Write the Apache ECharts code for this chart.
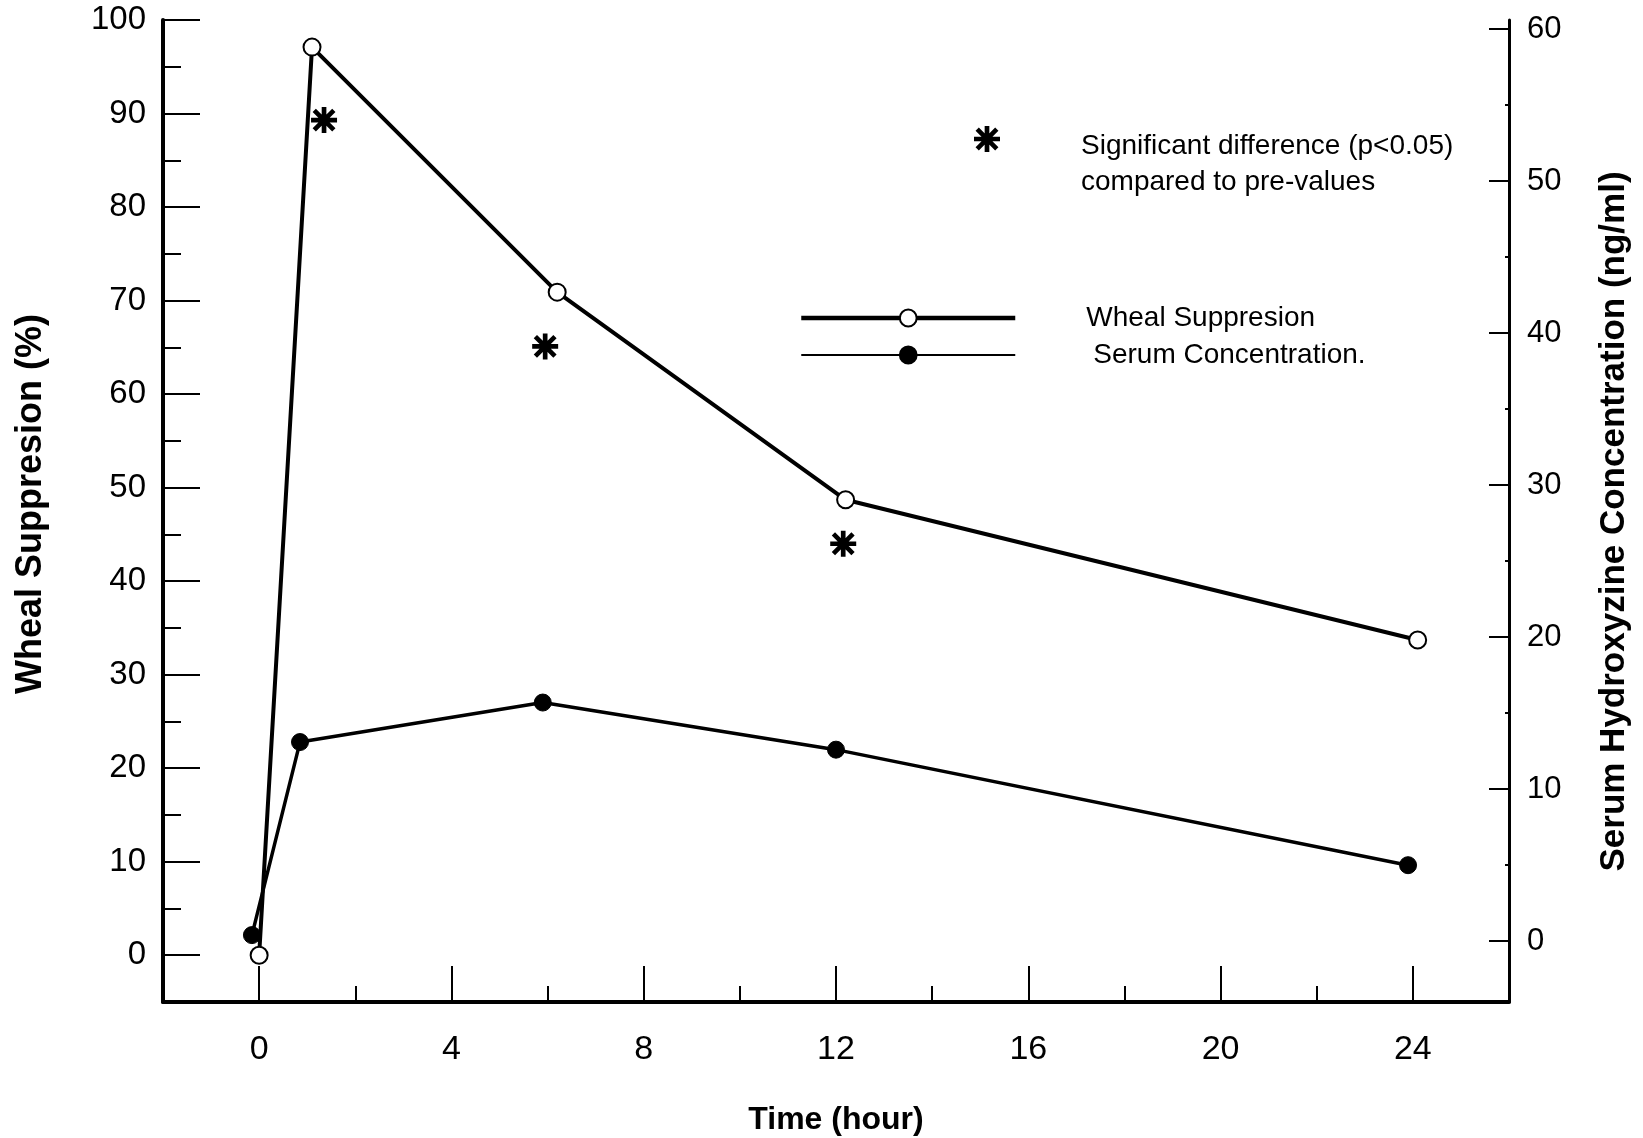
<!DOCTYPE html>
<html>
<head>
<meta charset="utf-8">
<title>Wheal Suppresion / Serum Concentration</title>
<script src="https://cdn.jsdelivr.net/npm/echarts@6.0.0/dist/echarts.min.js"></script>
<style>
  html, body { margin: 0; padding: 0; background: #fff; }
  #chart { width: 1643px; height: 1138px; }
</style>
</head>
<body>
<div id="chart"></div>
<script>
// data
var whealHours = [0, 1.1, 6.2, 12.2, 24.1];
var whealValues = [0, 97.1, 70.9, 48.7, 33.7];
var serumHours = [-0.15, 0.85, 5.9, 12.0, 23.9];
var serumValues = [0.4, 13.1, 15.7, 12.6, 5.0];
var sigHours = [1.35, 5.95, 12.15];
var sigValues = [89.3, 65.1, 44.0];

var xTicks = [0, 4, 8, 12, 16, 20, 24];
var xMinorTicks = [2, 6, 10, 14, 18, 22];
var leftTicks = [0, 10, 20, 30, 40, 50, 60, 70, 80, 90, 100];
var leftMinorTicks = [5, 15, 25, 35, 45, 55, 65, 75, 85, 95];
var rightTicks = [0, 10, 20, 30, 40, 50, 60];
var rightMinorTicks = [5, 15, 25, 35, 45, 55];

var FONT = 'Liberation Sans, Arial, Helvetica, sans-serif';

function pairs(xs, ys) {
    var out = [];
    for (var i = 0; i < xs.length; i++) out.push([xs[i], ys[i]]);
    return out;
}

// eight-armed asterisk
var asterisk = 'path://M41 0H59V100H41Z M0 41H100V59H0Z M18.6 6L94 81.4L81.4 94L6 18.6Z M81.4 6L94 18.6L18.6 94L6 81.4Z';

var chart = echarts.init(document.getElementById('chart'));

chart.setOption({
    animation: false,
    backgroundColor: '#fff',
    textStyle: { fontFamily: FONT, color: '#000' },
    grid: { left: 163, right: 134, top: 20, bottom: 136, containLabel: false, outerBoundsMode: 'none' },
    title: {
        text: 'Significant difference (p<0.05)\ncompared to pre-values',
        left: 1081,
        top: 128,
        padding: 0,
        textStyle: { fontFamily: FONT, fontSize: 28, fontWeight: 'normal', lineHeight: 36, color: '#000' }
    },
    legend: [{
        orient: 'vertical',
        left: 799,
        top: 304,
        padding: 0,
        itemWidth: 214,
        itemHeight: 21,
        itemGap: 9,
        selectedMode: false,
        textStyle: { fontFamily: FONT, fontSize: 28, lineHeight: 28, color: '#000', padding: [0, 0, 0, 66] },
        data: [
            { name: 'Wheal Suppresion', lineStyle: { width: 4.5 } },
            { name: 'Serum Concentration.', lineStyle: { width: 2 }, textStyle: { padding: [0, 0, 0, 73] } }
        ]
    }, {
        left: 974,
        top: 126,
        padding: 0,
        itemWidth: 26,
        itemHeight: 26,
        selectedMode: false,
        formatter: function () { return ''; },
        data: ['Significant difference (p<0.05)']
    }],
    xAxis: [{
        type: 'value',
        min: -2,
        max: 26,
        position: 'bottom',
        name: 'Time (hour)',
        nameLocation: 'middle',
        nameGap: 102,
        nameTextStyle: { fontFamily: FONT, fontSize: 32, fontWeight: 'bold', color: '#000' },
        axisLine: { show: true, onZero: false, lineStyle: { color: '#000', width: 4 } },
        axisTick: { show: true, inside: true, length: 36, lineStyle: { color: '#000', width: 2 }, customValues: xTicks },
        axisLabel: { fontFamily: FONT, fontSize: 34, color: '#000', margin: 31, customValues: xTicks },
        splitLine: { show: false }
    }, {
        type: 'value',
        min: -2,
        max: 26,
        position: 'bottom',
        axisLine: { show: false, onZero: false },
        axisTick: { show: true, inside: true, length: 16, lineStyle: { color: '#000', width: 2 }, customValues: xMinorTicks },
        axisLabel: { show: false },
        splitLine: { show: false }
    }],
    yAxis: [{
        type: 'value',
        min: -5,
        max: 100,
        position: 'left',
        name: 'Wheal Suppresion (%)',
        nameLocation: 'middle',
        nameGap: 114,
        nameTextStyle: { fontFamily: FONT, fontSize: 36, fontWeight: 'bold', color: '#000', padding: [0, 0, 0, 14] },
        axisLine: { show: true, onZero: false, lineStyle: { color: '#000', width: 4 } },
        axisTick: { show: true, inside: true, length: 37, lineStyle: { color: '#000', width: 2 }, customValues: leftTicks },
        axisLabel: { fontFamily: FONT, fontSize: 33, color: '#000', margin: 17, customValues: leftTicks },
        splitLine: { show: false }
    }, {
        type: 'value',
        min: -5,
        max: 100,
        position: 'left',
        axisLine: { show: false, onZero: false },
        axisTick: { show: true, inside: true, length: 18, lineStyle: { color: '#000', width: 2 }, customValues: leftMinorTicks },
        axisLabel: { show: false },
        splitLine: { show: false }
    }, {
        type: 'value',
        min: -4,
        max: 60.6,
        position: 'right',
        name: 'Serum Hydroxyzine Concentration (ng/ml)',
        nameLocation: 'middle',
        nameGap: 88,
        nameTextStyle: { fontFamily: FONT, fontSize: 35, fontWeight: 'bold', color: '#000', padding: [0, 21, 0, 0] },
        axisLine: { show: true, onZero: false, lineStyle: { color: '#000', width: 3 } },
        axisTick: { show: true, inside: true, length: 20, lineStyle: { color: '#000', width: 2 }, customValues: rightTicks },
        axisLabel: { fontFamily: FONT, fontSize: 31, color: '#000', margin: 18, customValues: rightTicks },
        splitLine: { show: false }
    }, {
        type: 'value',
        min: -4,
        max: 60.6,
        position: 'right',
        axisLine: { show: false, onZero: false },
        axisTick: { show: true, inside: true, length: 4, lineStyle: { color: '#000', width: 2 }, customValues: rightMinorTicks },
        axisLabel: { show: false },
        splitLine: { show: false }
    }],
    series: [{
        name: 'Wheal Suppresion',
        type: 'line',
        xAxisIndex: 0,
        yAxisIndex: 0,
        data: pairs(whealHours, whealValues),
        symbol: 'circle',
        symbolSize: 17,
        lineStyle: { color: '#000', width: 4 },
        itemStyle: { color: '#fff', borderColor: '#000', borderWidth: 2 },
        z: 3
    }, {
        name: 'Serum Concentration.',
        type: 'line',
        xAxisIndex: 0,
        yAxisIndex: 2,
        data: pairs(serumHours, serumValues),
        symbol: 'circle',
        symbolSize: 17,
        lineStyle: { color: '#000', width: 3.5 },
        itemStyle: { color: '#000', borderColor: '#000', borderWidth: 1 },
        z: 2
    }, {
        name: 'Significant difference (p<0.05)',
        type: 'scatter',
        xAxisIndex: 0,
        yAxisIndex: 0,
        data: pairs(sigHours, sigValues),
        symbol: asterisk,
        symbolSize: 26,
        itemStyle: { color: '#000', opacity: 1 },
        z: 4
    }]
});
</script>
</body>
</html>
